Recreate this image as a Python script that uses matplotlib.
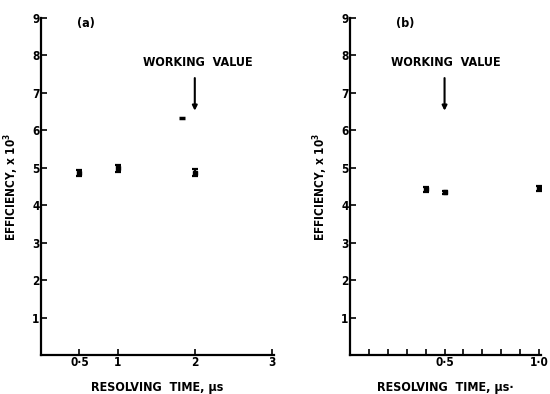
import matplotlib
matplotlib.use("Agg")
import matplotlib.pyplot as plt
from matplotlib.ticker import MultipleLocator

plt.rcParams['font.family'] = ['DejaVu Sans']
plt.rcParams['font.weight'] = 'bold'
plt.rcParams['font.stretch'] = 'condensed'

# Panel (a)
xa = [0.5, 1.0, 2.0]
ya = [4.86, 4.99, 4.87]
erra = [0.09, 0.09, 0.09]
x_extra = [1.83]
y_extra = [6.32]
xticks_a = [0.5, 1, 2, 3]
xticklabels_a = ['0·5', '1', '2', '3']

# Panel (b)
xb = [0.4, 0.5, 1.0]
yb = [4.42, 4.34, 4.45]
errb = [0.06, 0.05, 0.06]
xticks_b = [0.5, 1.0]
xticklabels_b = ['0·5', '1·0']

yticks = [1, 2, 3, 4, 5, 6, 7, 8, 9]
working_a = 2.0
working_b = 0.5

fig = plt.figure(figsize=(5.5, 3.94), dpi=100)
axa = fig.add_axes([41/550, 1-355/394, 233/550, 337/394])
axb = fig.add_axes([350/550, 1-355/394, 191/550, 337/394])

def style(ax):
    for s in ['top', 'right']:
        ax.spines[s].set_visible(False)
    for s in ['left', 'bottom']:
        ax.spines[s].set_linewidth(1.6)
    ax.set_ylim(0, 9)
    ax.set_yticks(yticks)
    ax.set_yticklabels([str(t) for t in yticks], fontsize=8.5, fontweight='bold')
    ax.tick_params(axis='both', direction='in', length=4, width=1.2, pad=1)
    ax.set_ylabel('EFFICIENCY, x 10$^\\mathbf{3}$', fontsize=8.5, fontweight='bold', labelpad=8)

style(axa)
axa.set_xlim(0, 3.03)
axa.set_xticks(xticks_a)
axa.set_xticklabels(xticklabels_a, fontsize=8.5, fontweight='bold')
axa.errorbar(xa, ya, yerr=erra, fmt='s', ms=2.5, color='black', capsize=2, elinewidth=1.6, capthick=1.6)
axa.plot(x_extra, y_extra, marker='_', ms=5, mew=2.5, color='black', linestyle='none')
axa.set_xlabel('RESOLVING  TIME, μs', fontsize=9, fontweight='bold', labelpad=8)
axa.text(0.58, 8.85, '(a)', fontsize=9, fontweight='bold', ha='center', va='center')
axa.text(working_a + 0.04, 7.8, 'WORKING  VALUE', fontsize=9, fontweight='bold', ha='center', va='center')
axa.annotate('', xy=(working_a, 6.45), xytext=(working_a, 7.47),
             arrowprops=dict(arrowstyle='-|>', color='black', lw=1.5, mutation_scale=7))

style(axb)
axb.set_xlim(0, 1.01)
axb.set_xticks(xticks_b)
axb.set_xticklabels(xticklabels_b, fontsize=8.5, fontweight='bold')
axb.xaxis.set_minor_locator(MultipleLocator(0.1))
axb.tick_params(axis='x', which='minor', direction='in', length=4, width=1.2)
axb.errorbar(xb, yb, yerr=errb, fmt='s', ms=2.5, color='black', capsize=2, elinewidth=1.6, capthick=1.6)
axb.set_xlabel('RESOLVING  TIME, μs·', fontsize=9, fontweight='bold', labelpad=8)
axb.text(0.29, 8.85, '(b)', fontsize=9, fontweight='bold', ha='center', va='center')
axb.text(working_b + 0.005, 7.8, 'WORKING  VALUE', fontsize=9, fontweight='bold', ha='center', va='center')
axb.annotate('', xy=(working_b, 6.45), xytext=(working_b, 7.47),
             arrowprops=dict(arrowstyle='-|>', color='black', lw=1.5, mutation_scale=7))

fig.savefig('out.png', dpi=100)
